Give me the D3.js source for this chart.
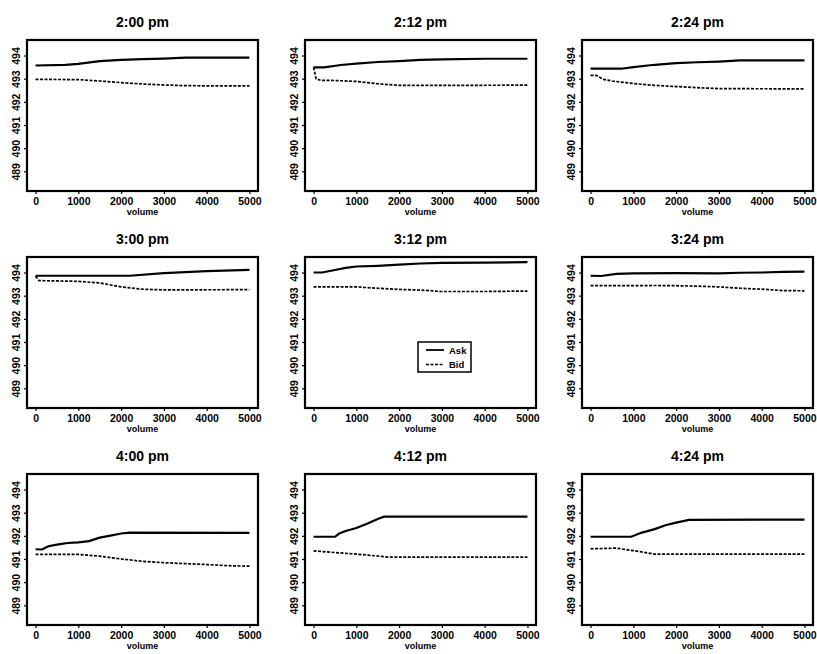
<!DOCTYPE html>
<html><head><meta charset="utf-8">
<script src="https://cdn.jsdelivr.net/npm/d3@7"></script>
<style>body{margin:0;background:#fff}svg{display:block}text{font-family:"Liberation Sans",Arial,sans-serif;font-weight:bold;fill:#000}</style>
</head><body>
<script>
const titles = ["2:00 pm","2:12 pm","2:24 pm","3:00 pm","3:12 pm","3:24 pm","4:00 pm","4:12 pm","4:24 pm"];
const xTicks = [0,1000,2000,3000,4000,5000];
const yTicks = [489,490,491,492,493,494];
const xDomain = [-200,5200];
const yDomain = [488.15,494.67];

const ask_200 = [[0,493.57],[700,493.6],[1000,493.64],[1500,493.76],[2000,493.81],[2500,493.84],[3000,493.87],[3500,493.91],[5000,493.91]];
const bid_200 = [[0,492.97],[1000,492.96],[1500,492.9],[2000,492.83],[2500,492.77],[3000,492.73],[3500,492.7],[4000,492.69],[5000,492.69]];
const ask_212 = [[0,493.49],[250,493.49],[640,493.59],[1000,493.65],[1500,493.72],[2000,493.76],[2500,493.81],[3000,493.83],[4000,493.86],[5000,493.86]];
const bid_212 = [[0,493.49],[60,492.99],[170,492.93],[500,492.92],[1000,492.88],[1500,492.78],[2000,492.71],[3000,492.71],[5000,492.72]];
const ask_224 = [[0,493.43],[720,493.43],[1000,493.5],[1500,493.6],[2000,493.67],[2500,493.71],[3000,493.74],[3500,493.79],[5000,493.79]];
const bid_224 = [[0,493.14],[140,493.14],[300,492.97],[500,492.9],[1000,492.79],[1500,492.71],[2000,492.66],[2500,492.61],[3000,492.57],[5000,492.56]];
const ask_300 = [[0,493.86],[2200,493.86],[3000,493.97],[4000,494.06],[5000,494.11]];
const bid_300 = [[0,493.84],[80,493.65],[1000,493.62],[1500,493.55],[2000,493.38],[2500,493.28],[3000,493.25],[5000,493.26]];
const ask_312 = [[0,494.0],[200,494.0],[500,494.11],[750,494.2],[1000,494.26],[1500,494.29],[2000,494.34],[2500,494.39],[3000,494.42],[4000,494.43],[5000,494.45]];
const bid_312 = [[0,493.38],[1000,493.38],[1500,493.32],[2000,493.27],[2500,493.24],[3000,493.18],[4000,493.18],[5000,493.2]];
const ask_324 = [[0,493.86],[250,493.85],[600,493.94],[1000,493.96],[2000,493.97],[3000,493.96],[3500,493.99],[4000,494.0],[4500,494.03],[5000,494.04]];
const bid_324 = [[0,493.43],[1000,493.43],[1500,493.44],[2000,493.43],[2500,493.41],[3000,493.38],[3500,493.32],[4000,493.28],[4500,493.22],[5000,493.21]];
const ask_400 = [[0,491.42],[150,491.41],[300,491.55],[500,491.62],[750,491.69],[1000,491.72],[1250,491.77],[1500,491.92],[1750,492.01],[2000,492.1],[2200,492.14],[5000,492.13]];
const bid_400 = [[0,491.2],[1000,491.2],[1250,491.16],[1500,491.12],[2000,491.0],[2500,490.9],[3000,490.84],[3500,490.8],[4000,490.76],[4500,490.71],[5000,490.69]];
const ask_412 = [[0,491.96],[500,491.96],[600,492.1],[750,492.21],[1000,492.34],[1250,492.52],[1500,492.73],[1650,492.83],[5000,492.83]];
const bid_412 = [[0,491.35],[500,491.28],[1000,491.21],[1500,491.13],[1750,491.08],[5000,491.08]];
const ask_424 = [[0,491.96],[950,491.96],[1200,492.14],[1500,492.29],[1750,492.46],[2000,492.57],[2300,492.69],[5000,492.7]];
const bid_424 = [[0,491.44],[600,491.47],[1000,491.36],[1250,491.29],[1500,491.21],[5000,491.21]];

const askSeries = [ask_200,ask_212,ask_224,ask_300,ask_312,ask_324,ask_400,ask_412,ask_424];
const bidSeries = [bid_200,bid_212,bid_224,bid_300,bid_312,bid_324,bid_400,bid_412,bid_424];
const legendLabels = ["Ask","Bid"];

const W = 817, H = 654;
const colLeft = [27, 305, 582];
const rowTop = [40, 257, 474];
const fw = 231, fh = 151;
const FONT = '"Liberation Sans",Arial,sans-serif';

const svg = d3.select("body").append("svg").attr("width", W).attr("height", H);

titles.forEach((t, i) => {
  const c = i % 3, r = Math.floor(i / 3);
  const g = svg.append("g").attr("transform", `translate(${colLeft[c]},${rowTop[r]})`);
  const x = d3.scaleLinear().domain(xDomain).range([0, fw]);
  const y = d3.scaleLinear().domain(yDomain).range([fh, 0]);

  g.append("text").attr("x", fw / 2).attr("y", -13).attr("text-anchor", "middle")
    .style("font-size", "14px").text(t);

  const xa = g.append("g").attr("transform", `translate(0,${fh})`)
    .call(d3.axisBottom(x).tickValues(xTicks).tickSize(3).tickPadding(4).tickFormat(d3.format("d")));
  xa.select(".domain").remove();
  xa.selectAll("line").attr("stroke", "#000").attr("stroke-width", 1.2);
  xa.selectAll("text").style("font-size", "10.5px").style("font-family", FONT).attr("font-weight", "bold");

  const ya = g.append("g")
    .call(d3.axisLeft(y).tickValues(yTicks).tickSize(3).tickFormat(d3.format("d")));
  ya.select(".domain").remove();
  ya.selectAll("line").attr("stroke", "#000").attr("stroke-width", 1.2);
  ya.selectAll("text").attr("x", null).attr("dy", null)
    .attr("transform", "translate(-7,0) rotate(-90)")
    .attr("text-anchor", "middle")
    .style("font-size", "10.5px").style("font-family", FONT).attr("font-weight", "bold");

  g.append("text").attr("x", fw / 2).attr("y", fh + 24).attr("text-anchor", "middle")
    .style("font-size", "9px").text("volume");

  const line = d3.line().x(d => x(d[0])).y(d => y(d[1]));
  g.append("path").datum(askSeries[i]).attr("d", line).attr("fill", "none")
    .attr("stroke", "#000").attr("stroke-width", 2.2);
  g.append("path").datum(bidSeries[i]).attr("d", line).attr("fill", "none")
    .attr("stroke", "#000").attr("stroke-width", 1.7).attr("stroke-dasharray", "3,1.5");

  g.append("rect").attr("x", 0).attr("y", 0).attr("width", fw).attr("height", fh)
    .attr("fill", "none").attr("stroke", "#000").attr("stroke-width", 2.2);

  if (i === 4) {
    const lg = g.append("g").attr("transform", `translate(${418 - colLeft[c]},${342 - rowTop[r]})`);
    lg.append("rect").attr("width", 53).attr("height", 30).attr("fill", "#fff")
      .attr("stroke", "#000").attr("stroke-width", 1.5);
    legendLabels.forEach((lab, k) => {
      const ly = 8 + k * 14.5;
      lg.append("line").attr("x1", 8).attr("x2", 26).attr("y1", ly).attr("y2", ly)
        .attr("stroke", "#000").attr("stroke-width", k === 0 ? 1.8 : 1.5)
        .attr("stroke-dasharray", k === 0 ? null : "3,1.5");
      lg.append("text").attr("x", 31).attr("y", ly + 3.5).style("font-size", "9.5px").text(lab);
    });
  }
});
</script>
</body></html>
